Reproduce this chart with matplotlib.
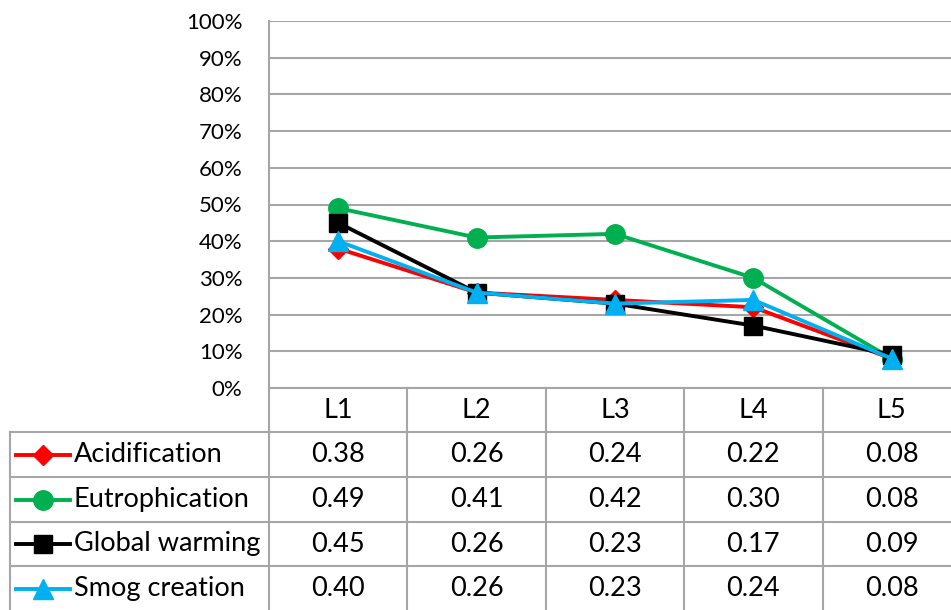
import matplotlib.pyplot as plt
from matplotlib.lines import Line2D

# data
categories = ['L1', 'L2', 'L3', 'L4', 'L5']
series_names = ['Acidification', 'Eutrophication', 'Global warming', 'Smog creation']
acidification = [0.38, 0.26, 0.24, 0.22, 0.08]
eutrophication = [0.49, 0.41, 0.42, 0.30, 0.08]
global_warming = [0.45, 0.26, 0.23, 0.17, 0.09]
smog_creation = [0.40, 0.26, 0.23, 0.24, 0.08]
yticks = [0, 0.1, 0.2, 0.3, 0.4, 0.5, 0.6, 0.7, 0.8, 0.9, 1.0]

series = [acidification, eutrophication, global_warming, smog_creation]
colors = ['#FF0000', '#00B050', '#000000', '#00B0F0']
markers = ['D', 'o', 's', '^']
msizes = [10, 14, 13, 14]

plt.rcParams['font.family'] = ['Lato', 'DejaVu Sans']

W, H = 951, 610
fig = plt.figure(figsize=(W / 100, H / 100), dpi=100)

# layout in pixels
x0, x_right = 269, 961
y_top, y_zero = 21, 388
table_left = 10
row_edges = [388, 432, 477, 522, 566, 611]
gridc = '#A6A6A6'
fs_tick = 16
fs = 19.5


def fx(x):
    return x / W


def fy(y):
    return 1 - y / H


ax = fig.add_axes([fx(x0), fy(y_zero), (x_right - x0) / W, (y_zero - y_top) / H])
ax.set_xlim(-0.5, len(categories) - 0.5)
ax.set_ylim(0, 1)
ax.set_yticks(yticks)
ax.set_yticklabels([f'{int(round(t * 100))}%' for t in yticks], fontsize=fs_tick)
ax.tick_params(axis='y', length=0, pad=19)
ax.set_xticks([])
for sp in ax.spines.values():
    sp.set_visible(False)
ax.grid(axis='y', color=gridc, linewidth=1.5)
ax.set_axisbelow(True)

for vals, c, m, ms in zip(series, colors, markers, msizes):
    ax.plot(range(len(categories)), vals, color=c, lw=2.8, marker=m,
            markersize=ms, markerfacecolor=c, markeredgecolor=c, clip_on=False, zorder=3)


def hline(y, xa, xb):
    fig.add_artist(Line2D([fx(xa), fx(xb)], [fy(y), fy(y)], color=gridc, lw=1.5))


def vline(x, ya, yb):
    fig.add_artist(Line2D([fx(x), fx(x)], [fy(ya), fy(yb)], color=gridc, lw=1.5))


# table grid
col_w = (x_right - x0) / len(categories)
col_edges = [x0 + i * col_w for i in range(len(categories) + 1)]
vline(x0, y_top, H)
for xe in col_edges[1:-1]:
    vline(xe, row_edges[0], H)
vline(table_left, row_edges[1], H)
hline(row_edges[0], x0, W)
for ye in row_edges[1:-1]:
    hline(ye, table_left, W)

# header
for i, cat in enumerate(categories):
    fig.text(fx(x0 + (i + 0.5) * col_w), fy((row_edges[0] + row_edges[1]) / 2), cat,
             ha='center', va='center', fontsize=fs)

# rows
for r, (name, vals, c, m, ms) in enumerate(zip(series_names, series, colors, markers, msizes)):
    yc = (row_edges[r + 1] + row_edges[r + 2]) / 2
    fig.add_artist(Line2D([fx(16), fx(70)], [fy(yc), fy(yc)], color=c, lw=2.8))
    fig.add_artist(Line2D([fx(43)], [fy(yc)], color=c, marker=m, markersize=ms,
                          markerfacecolor=c, markeredgecolor=c, lw=0))
    fig.text(fx(74), fy(yc), name, ha='left', va='center', fontsize=fs)
    for i, v in enumerate(vals):
        fig.text(fx(x0 + (i + 0.5) * col_w), fy(yc), f'{v:.2f}',
                 ha='center', va='center', fontsize=fs)

fig.savefig('out.png', dpi=100)
